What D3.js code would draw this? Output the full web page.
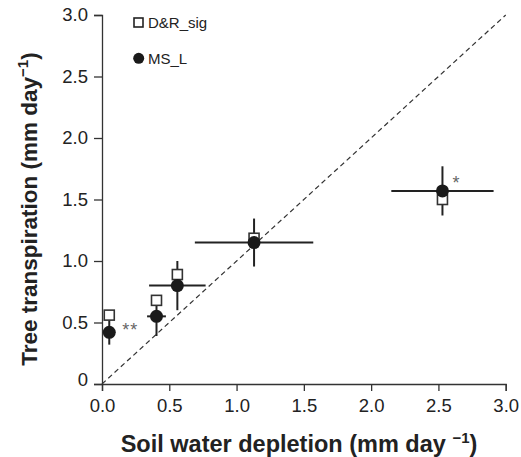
<!DOCTYPE html>
<html><head><meta charset="utf-8">
<script src="https://cdn.jsdelivr.net/npm/d3@7"></script>
<style>body{margin:0;background:#fff}svg{display:block}</style>
</head><body>
<script>
const xTicks = [0,0.5,1.0,1.5,2.0,2.5,3.0];
const xTickLabels = ["0.0","0.5","1.0","1.5","2.0","2.5","3.0"];
const yTicks = [0,0.5,1.0,1.5,2.0,2.5,3.0];
const yTickLabels = ["0","0.5","1.0","1.5","2.0","2.5","3.0"];
// soil water depletion (x) with horizontal SE
const depletion = [0.054, 0.405, 0.56, 1.13, 2.53];
const depletionErr = [0, 0.07, 0.21, 0.44, 0.38];
// MS_L tree transpiration with vertical SE
const msL = [0.42, 0.55, 0.80, 1.15, 1.57];
const msLErr = [0.10, 0.16, 0.20, 0.195, 0.20];
// D&R_sig tree transpiration
const drSig = [0.56, 0.68, 0.89, 1.185, 1.50];
const sigLabels = ["**", "", "", "", "*"];

const W = 521, H = 457;
const svg = d3.select("body").append("svg").attr("width", W).attr("height", H);
const x = d3.scaleLinear().domain([0,3]).range([102, 505.7]);
const y = d3.scaleLinear().domain([0,3]).range([384, 15]);
const font = "'Liberation Sans', Arial, sans-serif";

const xAxis = svg.append("g").attr("transform","translate(0,384)")
  .call(d3.axisBottom(x).tickValues(xTicks).tickFormat((d,i)=>xTickLabels[i]).tickSizeOuter(0).tickSize(7).tickPadding(8));
const yAxis = svg.append("g").attr("transform","translate(102,0)")
  .call(d3.axisLeft(y).tickValues(yTicks).tickFormat((d,i)=>yTickLabels[i]).tickSizeOuter(0).tickSize(8).tickPadding(6));
[xAxis,yAxis].forEach(a=>{
  a.selectAll("path,line").attr("stroke","#333").attr("stroke-width",1.3);
  a.selectAll("text").attr("font-family",font).attr("font-size",18.5).attr("fill","#222");
});
xAxis.selectAll(".tick text").attr("dy","0.71em");
yAxis.select(".tick text").attr("dy","0.1em");

// 1:1 line
svg.append("line").attr("x1",x(0)).attr("y1",y(0)).attr("x2",x(3)).attr("y2",y(3))
  .attr("stroke","#333").attr("stroke-width",1.2).attr("stroke-dasharray","5,3.5");

// error bars
const g = svg.append("g");
depletion.forEach((d,i)=>{
  if (depletionErr[i]>0) g.append("line").attr("x1",x(d-depletionErr[i])).attr("x2",x(d+depletionErr[i]))
    .attr("y1",y(msL[i])).attr("y2",y(msL[i])).attr("stroke","#222").attr("stroke-width",2);
  g.append("line").attr("x1",x(d)).attr("x2",x(d)).attr("y1",y(msL[i]-msLErr[i])).attr("y2",y(msL[i]+msLErr[i]))
    .attr("stroke","#222").attr("stroke-width",2);
});
// squares
const s = 10;
depletion.forEach((d,i)=>{
  g.append("rect").attr("x",x(d)-s/2).attr("y",y(drSig[i])-s/2).attr("width",s).attr("height",s)
    .attr("fill","#fff").attr("stroke","#333").attr("stroke-width",1.6);
});
// circles
depletion.forEach((d,i)=>{
  g.append("circle").attr("cx",x(d)).attr("cy",y(msL[i])).attr("r",6.5).attr("fill","#1a1a1a");
});
// significance
svg.append("text").attr("x",x(depletion[0])+13).attr("y",y(msL[0])+4).text(sigLabels[0])
  .attr("font-family",font).attr("font-size",18).attr("fill","#666").attr("letter-spacing","1px");
svg.append("text").attr("x",x(depletion[4])+10).attr("y",y(msL[4])-2).text(sigLabels[4])
  .attr("font-family",font).attr("font-size",18).attr("fill","#666");

// legend
svg.append("rect").attr("x",134).attr("y",18).attr("width",9).attr("height",9)
  .attr("fill","#fff").attr("stroke","#222").attr("stroke-width",1.6);
svg.append("text").attr("x",148).attr("y",28).text("D&R_sig").attr("font-family",font).attr("font-size",15).attr("fill","#222");
svg.append("circle").attr("cx",138.7).attr("cy",58.3).attr("r",5.5).attr("fill","#1a1a1a");
svg.append("text").attr("x",148).attr("y",63.5).text("MS_L").attr("font-family",font).attr("font-size",15).attr("fill","#222");

// axis titles
const xt = svg.append("text").attr("x",299).attr("y",452).attr("text-anchor","middle")
  .attr("font-family",font).attr("font-size",23.5).attr("font-weight","bold").attr("fill","#222");
xt.append("tspan").text("Soil water depletion (mm day ");
xt.append("tspan").text("\u22121").attr("font-size",15).attr("dy","-9");
xt.append("tspan").text(")").attr("dy","9");

const yt = svg.append("text").attr("transform","translate(37,209) rotate(-90)").attr("text-anchor","middle")
  .attr("font-family",font).attr("font-size",22.5).attr("font-weight","bold").attr("fill","#222");
yt.append("tspan").text("Tree transpiration (mm day");
yt.append("tspan").text("\u22121").attr("font-size",15).attr("dy","-9");
yt.append("tspan").text(")").attr("dy","9");
</script>
</body></html>
